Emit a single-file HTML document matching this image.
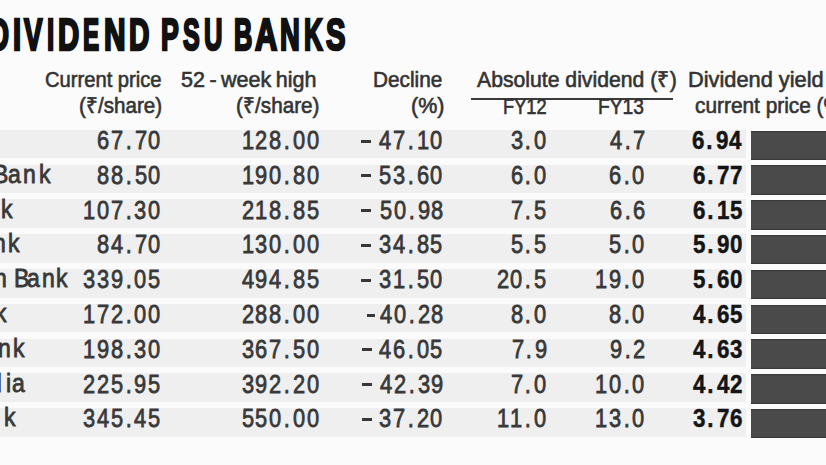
<!DOCTYPE html><html><head><meta charset="utf-8"><style>
html,body{margin:0;padding:0;background:#fbfbfb;}
body{width:826px;height:465px;position:relative;overflow:hidden;font-family:"Liberation Sans",sans-serif;}
.a{position:absolute;white-space:nowrap;line-height:1;transform-origin:0 0;}
.n b{display:inline-block;font-weight:normal;text-align:center;transform:scaleX(0.84);}.n b.c{width:13.9px}.n b.p{width:9.5px}.nb b{font-weight:bold;transform:scaleX(0.86)}.nb b.c{width:13.3px}.nb b.p{width:10.5px}
.row{position:absolute;left:0;width:746px;background:#efefef;}
.bar{position:absolute;left:751.3px;width:80px;background:#4a4a4a;box-shadow:inset 0 2px 1px -1px #383838,inset 0 -2px 1px -1px #383838;}
.d{position:absolute;height:3px;background:#383838;}
#w{position:absolute;left:0;top:0;width:826px;height:465px;}
</style></head><body><div id="w">
<div class="row" style="top:129.80px;height:28.60px"></div><div class="bar" style="top:130.60px;height:29.3px"></div>
<div class="row" style="top:164.61px;height:28.60px"></div><div class="bar" style="top:165.41px;height:29.3px"></div>
<div class="row" style="top:199.42px;height:28.60px"></div><div class="bar" style="top:200.22px;height:29.3px"></div>
<div class="row" style="top:234.23px;height:28.60px"></div><div class="bar" style="top:235.03px;height:29.3px"></div>
<div class="row" style="top:269.04px;height:28.60px"></div><div class="bar" style="top:269.84px;height:29.3px"></div>
<div class="row" style="top:303.85px;height:28.60px"></div><div class="bar" style="top:304.65px;height:29.3px"></div>
<div class="row" style="top:338.66px;height:28.60px"></div><div class="bar" style="top:339.46px;height:29.3px"></div>
<div class="row" style="top:373.47px;height:28.60px"></div><div class="bar" style="top:374.27px;height:29.3px"></div>
<div class="row" style="top:408.28px;height:28.60px"></div><div class="bar" style="top:409.08px;height:29.3px"></div>
<div class="a" style="left:471px;top:97.6px;width:202px;height:2px;background:#3a3a3a"></div>
<div class="d" style="left:361.40px;top:139.50px;width:9.70px"></div>
<div class="d" style="left:361.40px;top:174.31px;width:9.70px"></div>
<div class="d" style="left:361.40px;top:209.12px;width:9.70px"></div>
<div class="d" style="left:361.40px;top:243.93px;width:9.70px"></div>
<div class="d" style="left:361.40px;top:278.74px;width:9.70px"></div>
<div class="d" style="left:367.00px;top:313.55px;width:8.20px"></div>
<div class="d" style="left:361.90px;top:348.36px;width:9.70px"></div>
<div class="d" style="left:361.90px;top:383.17px;width:9.70px"></div>
<div class="d" style="left:361.90px;top:417.98px;width:9.70px"></div>
<div class="a" style="left:-11.00px;top:12.90px;font-size:44px;font-weight:bold;color:#111;letter-spacing:0.0px;transform:scaleX(0.6300);-webkit-text-stroke:2.6px #111;">D</div>
<div class="a" style="left:12.50px;top:12.90px;font-size:44px;font-weight:bold;color:#111;letter-spacing:0.0px;transform:scaleX(0.6615);-webkit-text-stroke:2.6px #111;">I</div>
<div class="a" style="left:23.70px;top:12.90px;font-size:44px;font-weight:bold;color:#111;letter-spacing:0.0px;transform:scaleX(0.6285);-webkit-text-stroke:2.6px #111;">V</div>
<div class="a" style="left:47.10px;top:12.90px;font-size:44px;font-weight:bold;color:#111;letter-spacing:0.0px;transform:scaleX(0.5896);-webkit-text-stroke:2.6px #111;">I</div>
<div class="a" style="left:57.70px;top:12.90px;font-size:44px;font-weight:bold;color:#111;letter-spacing:0.0px;transform:scaleX(0.6692);-webkit-text-stroke:2.6px #111;">D</div>
<div class="a" style="left:83.30px;top:12.90px;font-size:44px;font-weight:bold;color:#111;letter-spacing:0.0px;transform:scaleX(0.5489);-webkit-text-stroke:2.6px #111;">E</div>
<div class="a" style="left:103.90px;top:12.90px;font-size:44px;font-weight:bold;color:#111;letter-spacing:0.0px;transform:scaleX(0.6786);-webkit-text-stroke:2.6px #111;">N</div>
<div class="a" style="left:129.10px;top:12.90px;font-size:44px;font-weight:bold;color:#111;letter-spacing:0.0px;transform:scaleX(0.6423);-webkit-text-stroke:2.6px #111;">D</div>
<div class="a" style="left:161.10px;top:12.90px;font-size:44px;font-weight:bold;color:#111;letter-spacing:0.0px;transform:scaleX(0.6052);-webkit-text-stroke:2.6px #111;">P</div>
<div class="a" style="left:183.40px;top:12.90px;font-size:44px;font-weight:bold;color:#111;letter-spacing:0.0px;transform:scaleX(0.5695);-webkit-text-stroke:2.6px #111;">S</div>
<div class="a" style="left:203.60px;top:12.90px;font-size:44px;font-weight:bold;color:#111;letter-spacing:0.0px;transform:scaleX(0.5799);-webkit-text-stroke:2.6px #111;">U</div>
<div class="a" style="left:234.30px;top:12.90px;font-size:44px;font-weight:bold;color:#111;letter-spacing:0.0px;transform:scaleX(0.5759);-webkit-text-stroke:2.6px #111;">B</div>
<div class="a" style="left:255.10px;top:12.90px;font-size:44px;font-weight:bold;color:#111;letter-spacing:0.0px;transform:scaleX(0.7002);-webkit-text-stroke:2.6px #111;">A</div>
<div class="a" style="left:280.40px;top:12.90px;font-size:44px;font-weight:bold;color:#111;letter-spacing:0.0px;transform:scaleX(0.6217);-webkit-text-stroke:2.6px #111;">N</div>
<div class="a" style="left:304.00px;top:12.90px;font-size:44px;font-weight:bold;color:#111;letter-spacing:0.0px;transform:scaleX(0.5876);-webkit-text-stroke:2.6px #111;">K</div>
<div class="a" style="left:326.30px;top:12.90px;font-size:44px;font-weight:bold;color:#111;letter-spacing:0.0px;transform:scaleX(0.6626);-webkit-text-stroke:2.6px #111;">S</div>
<div class="a" style="left:44.80px;top:69.40px;font-size:22px;font-weight:normal;color:#333333;letter-spacing:0.0px;transform:scaleX(0.9167);-webkit-text-stroke:0.6px #333;">Current price</div>
<div class="a" style="left:180.60px;top:69.40px;font-size:22px;font-weight:normal;color:#333333;letter-spacing:0.0px;transform:scaleX(0.9772);-webkit-text-stroke:0.6px #333;word-spacing:-1.5px;">52 - week high</div>
<div class="a" style="left:372.90px;top:69.40px;font-size:22px;font-weight:normal;color:#333333;letter-spacing:0.0px;transform:scaleX(0.9437);-webkit-text-stroke:0.6px #333;">Decline</div>
<div class="a" style="left:476.60px;top:69.40px;font-size:22px;font-weight:normal;color:#333333;letter-spacing:0.0px;transform:scaleX(0.9631);-webkit-text-stroke:0.6px #333;">Absolute dividend (&#8377;)</div>
<div class="a" style="left:688.30px;top:69.40px;font-size:22px;font-weight:normal;color:#333333;letter-spacing:0.0px;transform:scaleX(0.9900);-webkit-text-stroke:0.6px #333;">Dividend yield on</div>
<div class="a" style="left:79.40px;top:95.40px;font-size:22px;font-weight:normal;color:#333333;letter-spacing:0.0px;transform:scaleX(0.9357);-webkit-text-stroke:0.6px #333;">(&#8377;/share)</div>
<div class="a" style="left:236.20px;top:95.40px;font-size:22px;font-weight:normal;color:#333333;letter-spacing:0.0px;transform:scaleX(0.9403);-webkit-text-stroke:0.6px #333;">(&#8377;/share)</div>
<div class="a" style="left:410.70px;top:95.40px;font-size:22px;font-weight:normal;color:#333333;letter-spacing:0.0px;transform:scaleX(0.9753);-webkit-text-stroke:0.6px #333;">(%)</div>
<div class="a" style="left:695.10px;top:95.40px;font-size:22px;font-weight:normal;color:#333333;letter-spacing:0.0px;transform:scaleX(0.9470);-webkit-text-stroke:0.6px #333;">current price (%)</div>
<div class="a" style="left:502.80px;top:96.20px;font-size:22px;font-weight:normal;color:#333333;letter-spacing:0.0px;transform:scaleX(0.8281);-webkit-text-stroke:0.6px #333;">FY12</div>
<div class="a" style="left:598.40px;top:96.20px;font-size:22px;font-weight:normal;color:#333333;letter-spacing:0.0px;transform:scaleX(0.8722);-webkit-text-stroke:0.6px #333;">FY13</div>
<div class="a n" style="left:96.30px;top:127.00px;font-size:26px;color:#383838;-webkit-text-stroke:0.8px #383838;"><b class="c">6</b><b class="c">7</b><b class="p">.</b><b class="c">7</b><b class="c">0</b></div>
<div class="a n" style="left:240.50px;top:127.00px;font-size:26px;color:#383838;-webkit-text-stroke:0.8px #383838;"><b class="c">1</b><b class="c">2</b><b class="c">8</b><b class="p">.</b><b class="c">0</b><b class="c">0</b></div>
<div class="a n" style="left:378.30px;top:127.00px;font-size:26px;color:#383838;-webkit-text-stroke:0.8px #383838;"><b class="c">4</b><b class="c">7</b><b class="p">.</b><b class="c">1</b><b class="c">0</b></div>
<div class="a n" style="left:509.50px;top:127.00px;font-size:26px;color:#383838;-webkit-text-stroke:0.8px #383838;"><b class="c">3</b><b class="p">.</b><b class="c">0</b></div>
<div class="a n" style="left:609.00px;top:127.00px;font-size:26px;color:#383838;-webkit-text-stroke:0.8px #383838;"><b class="c">4</b><b class="p">.</b><b class="c">7</b></div>
<div class="a n nb" style="left:691.00px;top:127.00px;font-size:26px;color:#141414;-webkit-text-stroke:0.5px #141414;"><b class="c">6</b><b class="p">.</b><b class="c">9</b><b class="c">4</b></div>
<div class="a" style="left:-7.10px;top:161.81px;font-size:25px;font-weight:normal;color:#383838;letter-spacing:0.0px;transform:scaleX(0.9200);-webkit-text-stroke:0.8px #383838;">B</div>
<div class="a" style="left:8.05px;top:161.81px;font-size:25px;font-weight:normal;color:#383838;letter-spacing:0.0px;transform:scaleX(0.9200);-webkit-text-stroke:0.8px #383838;">a</div>
<div class="a" style="left:22.90px;top:161.81px;font-size:25px;font-weight:normal;color:#383838;letter-spacing:0.0px;transform:scaleX(0.9200);-webkit-text-stroke:0.8px #383838;">n</div>
<div class="a" style="left:38.60px;top:161.81px;font-size:25px;font-weight:normal;color:#383838;letter-spacing:0.0px;transform:scaleX(0.9200);-webkit-text-stroke:0.8px #383838;">k</div>
<div class="a n" style="left:96.30px;top:161.81px;font-size:26px;color:#383838;-webkit-text-stroke:0.8px #383838;"><b class="c">8</b><b class="c">8</b><b class="p">.</b><b class="c">5</b><b class="c">0</b></div>
<div class="a n" style="left:240.50px;top:161.81px;font-size:26px;color:#383838;-webkit-text-stroke:0.8px #383838;"><b class="c">1</b><b class="c">9</b><b class="c">0</b><b class="p">.</b><b class="c">8</b><b class="c">0</b></div>
<div class="a n" style="left:378.30px;top:161.81px;font-size:26px;color:#383838;-webkit-text-stroke:0.8px #383838;"><b class="c">5</b><b class="c">3</b><b class="p">.</b><b class="c">6</b><b class="c">0</b></div>
<div class="a n" style="left:509.50px;top:161.81px;font-size:26px;color:#383838;-webkit-text-stroke:0.8px #383838;"><b class="c">6</b><b class="p">.</b><b class="c">0</b></div>
<div class="a n" style="left:608.00px;top:161.81px;font-size:26px;color:#383838;-webkit-text-stroke:0.8px #383838;"><b class="c">6</b><b class="p">.</b><b class="c">0</b></div>
<div class="a n nb" style="left:692.00px;top:161.81px;font-size:26px;color:#141414;-webkit-text-stroke:0.5px #141414;"><b class="c">6</b><b class="p">.</b><b class="c">7</b><b class="c">7</b></div>
<div class="a" style="left:1.20px;top:196.62px;font-size:25px;font-weight:normal;color:#383838;letter-spacing:0.0px;transform:scaleX(0.9200);-webkit-text-stroke:0.8px #383838;">k</div>
<div class="a n" style="left:82.30px;top:196.62px;font-size:26px;color:#383838;-webkit-text-stroke:0.8px #383838;"><b class="c">1</b><b class="c">0</b><b class="c">7</b><b class="p">.</b><b class="c">3</b><b class="c">0</b></div>
<div class="a n" style="left:240.50px;top:196.62px;font-size:26px;color:#383838;-webkit-text-stroke:0.8px #383838;"><b class="c">2</b><b class="c">1</b><b class="c">8</b><b class="p">.</b><b class="c">8</b><b class="c">5</b></div>
<div class="a n" style="left:379.30px;top:196.62px;font-size:26px;color:#383838;-webkit-text-stroke:0.8px #383838;"><b class="c">5</b><b class="c">0</b><b class="p">.</b><b class="c">9</b><b class="c">8</b></div>
<div class="a n" style="left:509.50px;top:196.62px;font-size:26px;color:#383838;-webkit-text-stroke:0.8px #383838;"><b class="c">7</b><b class="p">.</b><b class="c">5</b></div>
<div class="a n" style="left:609.00px;top:196.62px;font-size:26px;color:#383838;-webkit-text-stroke:0.8px #383838;"><b class="c">6</b><b class="p">.</b><b class="c">6</b></div>
<div class="a n nb" style="left:692.00px;top:196.62px;font-size:26px;color:#141414;-webkit-text-stroke:0.5px #141414;"><b class="c">6</b><b class="p">.</b><b class="c">1</b><b class="c">5</b></div>
<div class="a" style="left:-6.80px;top:231.43px;font-size:25px;font-weight:normal;color:#383838;letter-spacing:0.0px;transform:scaleX(0.9200);-webkit-text-stroke:0.8px #383838;">n</div>
<div class="a" style="left:7.80px;top:231.43px;font-size:25px;font-weight:normal;color:#383838;letter-spacing:0.0px;transform:scaleX(0.9200);-webkit-text-stroke:0.8px #383838;">k</div>
<div class="a n" style="left:96.30px;top:231.43px;font-size:26px;color:#383838;-webkit-text-stroke:0.8px #383838;"><b class="c">8</b><b class="c">4</b><b class="p">.</b><b class="c">7</b><b class="c">0</b></div>
<div class="a n" style="left:240.50px;top:231.43px;font-size:26px;color:#383838;-webkit-text-stroke:0.8px #383838;"><b class="c">1</b><b class="c">3</b><b class="c">0</b><b class="p">.</b><b class="c">0</b><b class="c">0</b></div>
<div class="a n" style="left:378.30px;top:231.43px;font-size:26px;color:#383838;-webkit-text-stroke:0.8px #383838;"><b class="c">3</b><b class="c">4</b><b class="p">.</b><b class="c">8</b><b class="c">5</b></div>
<div class="a n" style="left:509.50px;top:231.43px;font-size:26px;color:#383838;-webkit-text-stroke:0.8px #383838;"><b class="c">5</b><b class="p">.</b><b class="c">5</b></div>
<div class="a n" style="left:608.00px;top:231.43px;font-size:26px;color:#383838;-webkit-text-stroke:0.8px #383838;"><b class="c">5</b><b class="p">.</b><b class="c">0</b></div>
<div class="a n nb" style="left:692.00px;top:231.43px;font-size:26px;color:#141414;-webkit-text-stroke:0.5px #141414;"><b class="c">5</b><b class="p">.</b><b class="c">9</b><b class="c">0</b></div>
<div class="a" style="left:-6.00px;top:266.24px;font-size:25px;font-weight:normal;color:#383838;letter-spacing:0.0px;transform:scaleX(0.9200);-webkit-text-stroke:0.8px #383838;">n</div>
<div class="a" style="left:13.55px;top:266.24px;font-size:25px;font-weight:normal;color:#383838;letter-spacing:0.0px;transform:scaleX(0.9200);-webkit-text-stroke:0.8px #383838;">B</div>
<div class="a" style="left:27.35px;top:266.24px;font-size:25px;font-weight:normal;color:#383838;letter-spacing:0.0px;transform:scaleX(0.9200);-webkit-text-stroke:0.8px #383838;">a</div>
<div class="a" style="left:41.70px;top:266.24px;font-size:25px;font-weight:normal;color:#383838;letter-spacing:0.0px;transform:scaleX(0.9200);-webkit-text-stroke:0.8px #383838;">n</div>
<div class="a" style="left:55.50px;top:266.24px;font-size:25px;font-weight:normal;color:#383838;letter-spacing:0.0px;transform:scaleX(0.9200);-webkit-text-stroke:0.8px #383838;">k</div>
<div class="a n" style="left:82.30px;top:266.24px;font-size:26px;color:#383838;-webkit-text-stroke:0.8px #383838;"><b class="c">3</b><b class="c">3</b><b class="c">9</b><b class="p">.</b><b class="c">0</b><b class="c">5</b></div>
<div class="a n" style="left:240.50px;top:266.24px;font-size:26px;color:#383838;-webkit-text-stroke:0.8px #383838;"><b class="c">4</b><b class="c">9</b><b class="c">4</b><b class="p">.</b><b class="c">8</b><b class="c">5</b></div>
<div class="a n" style="left:378.30px;top:266.24px;font-size:26px;color:#383838;-webkit-text-stroke:0.8px #383838;"><b class="c">3</b><b class="c">1</b><b class="p">.</b><b class="c">5</b><b class="c">0</b></div>
<div class="a n" style="left:495.50px;top:266.24px;font-size:26px;color:#383838;-webkit-text-stroke:0.8px #383838;"><b class="c">2</b><b class="c">0</b><b class="p">.</b><b class="c">5</b></div>
<div class="a n" style="left:594.00px;top:266.24px;font-size:26px;color:#383838;-webkit-text-stroke:0.8px #383838;"><b class="c">1</b><b class="c">9</b><b class="p">.</b><b class="c">0</b></div>
<div class="a n nb" style="left:692.00px;top:266.24px;font-size:26px;color:#141414;-webkit-text-stroke:0.5px #141414;"><b class="c">5</b><b class="p">.</b><b class="c">6</b><b class="c">0</b></div>
<div class="a" style="left:-5.30px;top:301.05px;font-size:25px;font-weight:normal;color:#383838;letter-spacing:0.0px;transform:scaleX(0.9200);-webkit-text-stroke:0.8px #383838;">k</div>
<div class="a n" style="left:82.30px;top:301.05px;font-size:26px;color:#383838;-webkit-text-stroke:0.8px #383838;"><b class="c">1</b><b class="c">7</b><b class="c">2</b><b class="p">.</b><b class="c">0</b><b class="c">0</b></div>
<div class="a n" style="left:240.50px;top:301.05px;font-size:26px;color:#383838;-webkit-text-stroke:0.8px #383838;"><b class="c">2</b><b class="c">8</b><b class="c">8</b><b class="p">.</b><b class="c">0</b><b class="c">0</b></div>
<div class="a n" style="left:379.30px;top:301.05px;font-size:26px;color:#383838;-webkit-text-stroke:0.8px #383838;"><b class="c">4</b><b class="c">0</b><b class="p">.</b><b class="c">2</b><b class="c">8</b></div>
<div class="a n" style="left:509.50px;top:301.05px;font-size:26px;color:#383838;-webkit-text-stroke:0.8px #383838;"><b class="c">8</b><b class="p">.</b><b class="c">0</b></div>
<div class="a n" style="left:608.00px;top:301.05px;font-size:26px;color:#383838;-webkit-text-stroke:0.8px #383838;"><b class="c">8</b><b class="p">.</b><b class="c">0</b></div>
<div class="a n nb" style="left:692.00px;top:301.05px;font-size:26px;color:#141414;-webkit-text-stroke:0.5px #141414;"><b class="c">4</b><b class="p">.</b><b class="c">6</b><b class="c">5</b></div>
<div class="a" style="left:-1.60px;top:335.86px;font-size:25px;font-weight:normal;color:#383838;letter-spacing:0.0px;transform:scaleX(0.9200);-webkit-text-stroke:0.8px #383838;">n</div>
<div class="a" style="left:13.10px;top:335.86px;font-size:25px;font-weight:normal;color:#383838;letter-spacing:0.0px;transform:scaleX(0.9200);-webkit-text-stroke:0.8px #383838;">k</div>
<div class="a n" style="left:82.30px;top:335.86px;font-size:26px;color:#383838;-webkit-text-stroke:0.8px #383838;"><b class="c">1</b><b class="c">9</b><b class="c">8</b><b class="p">.</b><b class="c">3</b><b class="c">0</b></div>
<div class="a n" style="left:240.50px;top:335.86px;font-size:26px;color:#383838;-webkit-text-stroke:0.8px #383838;"><b class="c">3</b><b class="c">6</b><b class="c">7</b><b class="p">.</b><b class="c">5</b><b class="c">0</b></div>
<div class="a n" style="left:378.30px;top:335.86px;font-size:26px;color:#383838;-webkit-text-stroke:0.8px #383838;"><b class="c">4</b><b class="c">6</b><b class="p">.</b><b class="c">0</b><b class="c">5</b></div>
<div class="a n" style="left:510.50px;top:335.86px;font-size:26px;color:#383838;-webkit-text-stroke:0.8px #383838;"><b class="c">7</b><b class="p">.</b><b class="c">9</b></div>
<div class="a n" style="left:609.00px;top:335.86px;font-size:26px;color:#383838;-webkit-text-stroke:0.8px #383838;"><b class="c">9</b><b class="p">.</b><b class="c">2</b></div>
<div class="a n nb" style="left:692.00px;top:335.86px;font-size:26px;color:#141414;-webkit-text-stroke:0.5px #141414;"><b class="c">4</b><b class="p">.</b><b class="c">6</b><b class="c">3</b></div>
<div class="a" style="left:-11.00px;top:370.67px;font-size:25px;font-weight:normal;color:#383838;letter-spacing:0.0px;transform:scaleX(0.9200);-webkit-text-stroke:0.8px #383838;">d</div>
<div class="a" style="left:5.70px;top:370.67px;font-size:25px;font-weight:normal;color:#383838;letter-spacing:0.0px;transform:scaleX(0.9200);-webkit-text-stroke:0.8px #383838;">i</div>
<div class="a" style="left:12.20px;top:370.67px;font-size:25px;font-weight:normal;color:#383838;letter-spacing:0.0px;transform:scaleX(0.9200);-webkit-text-stroke:0.8px #383838;">a</div>
<div class="a n" style="left:82.30px;top:370.67px;font-size:26px;color:#383838;-webkit-text-stroke:0.8px #383838;"><b class="c">2</b><b class="c">2</b><b class="c">5</b><b class="p">.</b><b class="c">9</b><b class="c">5</b></div>
<div class="a n" style="left:240.50px;top:370.67px;font-size:26px;color:#383838;-webkit-text-stroke:0.8px #383838;"><b class="c">3</b><b class="c">9</b><b class="c">2</b><b class="p">.</b><b class="c">2</b><b class="c">0</b></div>
<div class="a n" style="left:379.30px;top:370.67px;font-size:26px;color:#383838;-webkit-text-stroke:0.8px #383838;"><b class="c">4</b><b class="c">2</b><b class="p">.</b><b class="c">3</b><b class="c">9</b></div>
<div class="a n" style="left:509.50px;top:370.67px;font-size:26px;color:#383838;-webkit-text-stroke:0.8px #383838;"><b class="c">7</b><b class="p">.</b><b class="c">0</b></div>
<div class="a n" style="left:594.00px;top:370.67px;font-size:26px;color:#383838;-webkit-text-stroke:0.8px #383838;"><b class="c">1</b><b class="c">0</b><b class="p">.</b><b class="c">0</b></div>
<div class="a n nb" style="left:692.00px;top:370.67px;font-size:26px;color:#141414;-webkit-text-stroke:0.5px #141414;"><b class="c">4</b><b class="p">.</b><b class="c">4</b><b class="c">2</b></div>
<div class="a" style="left:4.40px;top:405.48px;font-size:25px;font-weight:normal;color:#383838;letter-spacing:0.0px;transform:scaleX(0.9200);-webkit-text-stroke:0.8px #383838;">k</div>
<div class="a n" style="left:82.30px;top:405.48px;font-size:26px;color:#383838;-webkit-text-stroke:0.8px #383838;"><b class="c">3</b><b class="c">4</b><b class="c">5</b><b class="p">.</b><b class="c">4</b><b class="c">5</b></div>
<div class="a n" style="left:240.50px;top:405.48px;font-size:26px;color:#383838;-webkit-text-stroke:0.8px #383838;"><b class="c">5</b><b class="c">5</b><b class="c">0</b><b class="p">.</b><b class="c">0</b><b class="c">0</b></div>
<div class="a n" style="left:378.30px;top:405.48px;font-size:26px;color:#383838;-webkit-text-stroke:0.8px #383838;"><b class="c">3</b><b class="c">7</b><b class="p">.</b><b class="c">2</b><b class="c">0</b></div>
<div class="a n" style="left:495.50px;top:405.48px;font-size:26px;color:#383838;-webkit-text-stroke:0.8px #383838;"><b class="c">1</b><b class="c">1</b><b class="p">.</b><b class="c">0</b></div>
<div class="a n" style="left:594.00px;top:405.48px;font-size:26px;color:#383838;-webkit-text-stroke:0.8px #383838;"><b class="c">1</b><b class="c">3</b><b class="p">.</b><b class="c">0</b></div>
<div class="a n nb" style="left:692.00px;top:405.48px;font-size:26px;color:#141414;-webkit-text-stroke:0.5px #141414;"><b class="c">3</b><b class="p">.</b><b class="c">7</b><b class="c">6</b></div>
</div></body></html>
